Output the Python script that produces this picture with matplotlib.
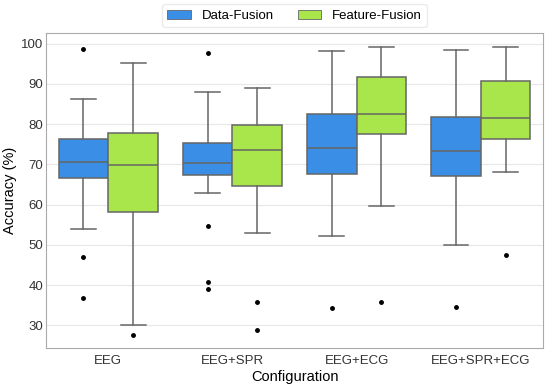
import numpy as np
import matplotlib
matplotlib.use("Agg")
import matplotlib.pyplot as plt
from matplotlib.patches import Patch

plt.rcParams["font.family"] = ["Liberation Sans", "DejaVu Sans"]

# --- data (accuracy %) -----------------------------------------------------
configs = ["EEG", "EEG+SPR", "EEG+ECG", "EEG+SPR+ECG"]
methods = ["Data-Fusion", "Feature-Fusion"]

data_whislo = [53.9, 63.0, 52.3, 50.0]
data_q1     = [66.7, 67.3, 67.7, 67.2]
data_med    = [70.5, 70.4, 74.2, 73.4]
data_q3     = [76.4, 75.4, 82.6, 81.7]
data_whishi = [86.2, 88.0, 98.1, 98.5]
data_fliers = [[98.7, 47.1, 36.9], [97.8, 54.6, 40.9, 39.0], [34.4], [34.6]]

feat_whislo = [30.0, 53.0, 59.6, 68.1]
feat_q1     = [58.1, 64.6, 77.5, 76.4]
feat_med    = [69.9, 73.5, 82.6, 81.6]
feat_q3     = [77.7, 79.7, 91.8, 90.8]
feat_whishi = [95.3, 88.9, 99.3, 99.3]
feat_fliers = [[27.6], [35.9, 28.8], [35.7], [47.5]]

COLORS = ["#3a8ee6", "#a8e64b"]
EDGE = "#666666"

def make_stats(lo, q1, med, q3, hi, fl):
    return [dict(whislo=a, q1=b, med=c, q3=d, whishi=e, fliers=f)
            for a, b, c, d, e, f in zip(lo, q1, med, q3, hi, fl)]

series = [make_stats(data_whislo, data_q1, data_med, data_q3, data_whishi, data_fliers),
          make_stats(feat_whislo, feat_q1, feat_med, feat_q3, feat_whishi, feat_fliers)]

fig, ax = plt.subplots(figsize=(5.5, 3.87), dpi=100)
fig.subplots_adjust(left=0.084, right=0.987, top=0.915, bottom=0.10)

x = np.arange(len(configs))
w = 0.4
for i, (stats, col) in enumerate(zip(series, COLORS)):
    pos = x + (i - 0.5) * w
    ax.bxp(stats, positions=pos, widths=w, patch_artist=True, manage_ticks=False,
           boxprops=dict(facecolor=col, edgecolor=EDGE, linewidth=1.1),
           medianprops=dict(color=EDGE, linewidth=1.1),
           whiskerprops=dict(color=EDGE, linewidth=1.1),
           capprops=dict(color=EDGE, linewidth=1.1),
           flierprops=dict(marker="o", markerfacecolor="black", markeredgecolor="black",
                           markersize=2.5, linestyle="none"))

ax.set_xlim(-0.5, 3.5)
ax.set_ylim(24.3, 102.7)
ax.set_xticks(x)
ax.set_xticklabels(configs)
ax.set_yticks([30, 40, 50, 60, 70, 80, 90, 100])
ax.tick_params(axis="both", labelsize=9.5, length=0, colors="#333333")
ax.tick_params(axis="y", pad=2)
ax.tick_params(axis="x", pad=5)
ax.set_xlabel("Configuration", fontsize=10.5, labelpad=2)
ax.set_ylabel("Accuracy (%)", fontsize=10.5, labelpad=3)
ax.yaxis.grid(True, color="#e8e8e8", lw=0.9)
ax.set_axisbelow(True)
for s in ax.spines.values():
    s.set_color("#aaaaaa")

handles = [Patch(facecolor=c, edgecolor=EDGE, linewidth=0.6, label=m)
           for c, m in zip(COLORS, methods)]
ax.legend(handles=handles, loc="lower center", bbox_to_anchor=(0.5, 1.01), ncol=2,
          fontsize=9.5, frameon=True, edgecolor="#e6e6e6", columnspacing=1.8,
          handlelength=1.8, borderaxespad=0.2)

fig.savefig("out.png", dpi=100)
